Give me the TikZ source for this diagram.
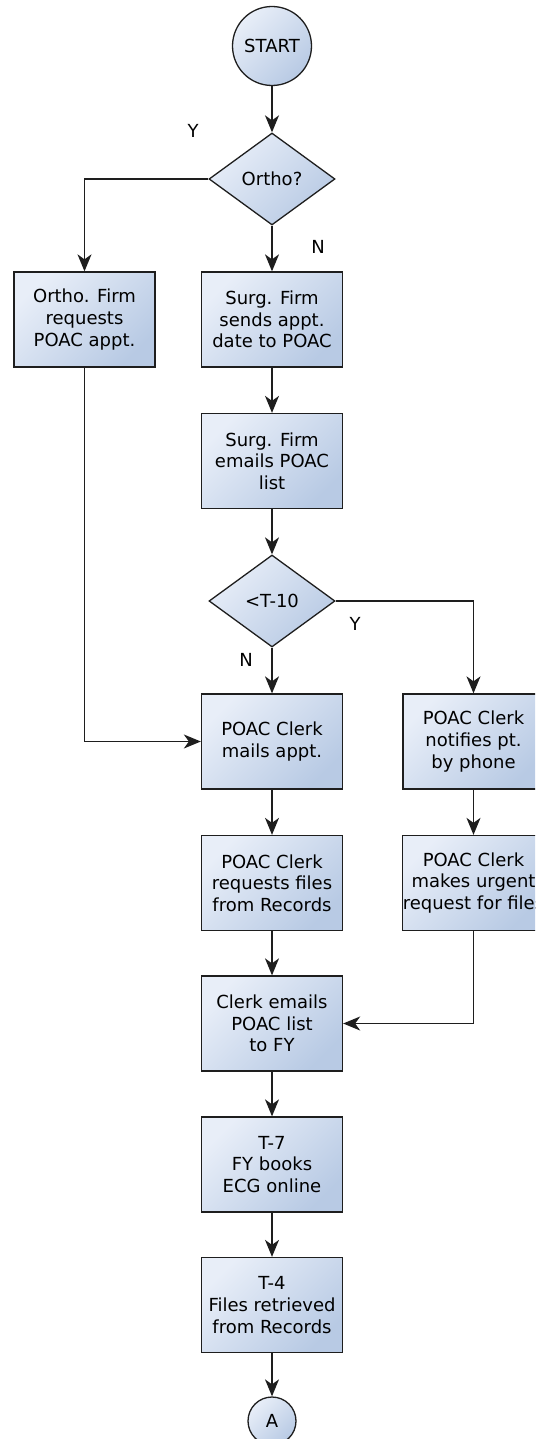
\documentclass[tikz,border=0pt]{standalone}
\usepackage{fontspec}
\setmainfont{DejaVu Sans}
\usetikzlibrary{shapes.geometric,arrows.meta}
\definecolor{fillA}{RGB}{232,238,248}
\definecolor{fillB}{RGB}{184,202,228}
\definecolor{edgec}{RGB}{30,30,30}
\tikzset{
  shadedfill/.style={top color=fillA, bottom color=fillB, shading angle=45},
  procbox/.style={shadedfill, draw=edgec, line width=1.3pt, rectangle, minimum width=141pt, minimum height=95pt, inner sep=0pt, align=center, font=\fontsize{18}{21.7}\selectfont},
  decbox/.style={shadedfill, draw=edgec, line width=1.3pt, diamond, aspect=1.37, minimum width=126pt, minimum height=92pt, inner sep=0pt, font=\fontsize{18}{21.7}\selectfont},
  termcirc/.style={shadedfill, draw=edgec, line width=1.3pt, circle, inner sep=0pt, font=\fontsize{18}{21.7}\selectfont},
  lbl/.style={font=\fontsize{18}{21.7}\selectfont, inner sep=0pt},
  flow/.style={line width=1.4pt, draw=edgec, -{Stealth[length=17pt,width=14pt,inset=5pt]}},
}
\begin{document}
\begin{tikzpicture}[x=1pt,y=-1pt]
\clip (0,0) rectangle (535,1439);
\node[termcirc, minimum size=79pt] (start) at (272,46) {START};
\node[decbox] (ortho) at (272,179) {Ortho?};
\node[procbox] (ofirm) at (84.5,319.5) {Ortho. Firm\\requests\\POAC appt.};
\node[procbox] (sfirm) at (272,319.5) {Surg. Firm\\sends appt.\\date to POAC};
\node[procbox] (semail) at (272,461) {Surg. Firm\\emails POAC\\list};
\node[decbox] (t10) at (272,601) {<T-10};
\node[procbox] (mails) at (272,741.5) {POAC Clerk\\mails appt.};
\node[procbox] (phone) at (473.5,741.5) {POAC Clerk\\notifies pt.\\by phone};
\node[procbox] (reqfiles) at (272,883) {POAC Clerk\\requests files\\from Records};
\node[procbox] (urgent) at (473.5,883) {POAC Clerk\\makes urgent\\request for files};
\node[procbox] (cemail) at (272,1023.5) {Clerk emails\\POAC list\\to FY};
\node[procbox] (t7) at (272,1164.5) {T-7\\FY books\\ECG online};
\node[procbox] (t4) at (272,1305) {T-4\\Files retrieved\\from Records};
\node[termcirc, minimum size=48pt] (A) at (272,1421) {A};
\node[lbl] (ylab1) at (193,131) {Y};
\node[lbl] (nlab1) at (318,247) {N};
\node[lbl] (nlab2) at (246,660) {N};
\node[lbl] (ylab2) at (355,624) {Y};
\draw[flow] (start) -- (ortho);
\draw[flow] (ortho.west) -| (ofirm.north);
\draw[flow] (ortho) -- (sfirm);
\draw[flow] (sfirm) -- (semail);
\draw[flow] (semail) -- (t10);
\draw[flow] (t10) -- (mails);
\draw[flow] (t10.east) -| (phone.north);
\draw[flow] (ofirm.south) |- (mails.west);
\draw[flow] (mails) -- (reqfiles);
\draw[flow] (phone) -- (urgent);
\draw[flow] (reqfiles) -- (cemail);
\draw[flow] (urgent.south) |- (cemail.east);
\draw[flow] (cemail) -- (t7);
\draw[flow] (t7) -- (t4);
\draw[flow] (t4) -- (A);
\end{tikzpicture}
\end{document}
